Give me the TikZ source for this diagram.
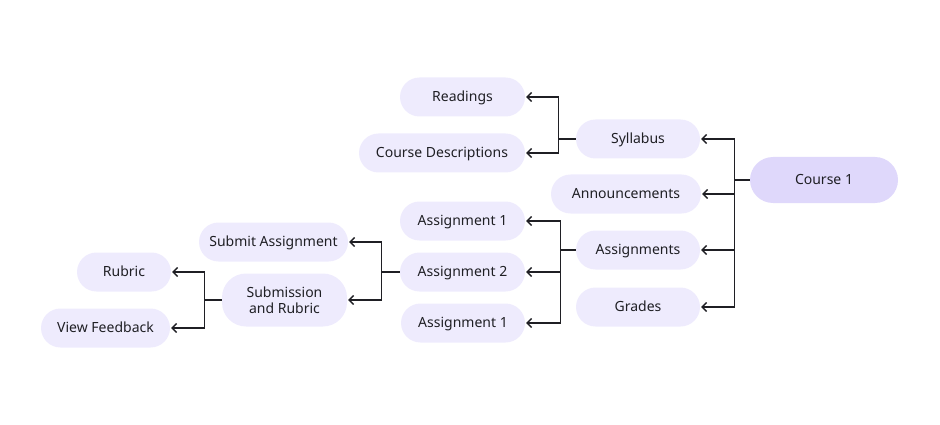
\documentclass[tikz,border=0pt]{standalone}
\usepackage{fontspec}
\setmainfont{Noto Sans}
\usetikzlibrary{arrows.meta}
\definecolor{lav}{HTML}{EEEBFD}
\definecolor{lavdark}{HTML}{DFD8FB}
\definecolor{ink}{HTML}{1F1F24}

\begin{document}
\begin{tikzpicture}[x=1pt, y=-1pt, every node/.style={font=\fontsize{14}{16.5}\selectfont, text=ink},
	box/.style={fill=lav, rounded corners=19.5pt, minimum height=39pt, inner sep=0pt, align=center, text height=10pt, text depth=1pt},
	link/.style={draw=ink, line width=1.3pt, -{Straight Barb[length=4.5pt, width=9pt]}, shorten >=1pt},
	>={Straight Barb[length=4.5pt, width=9pt]}]
	\useasboundingbox (0,0) rectangle (940,425);
	% root
	\node[box, fill=lavdark, minimum width=148pt, minimum height=46pt, rounded corners=23pt] (course) at (824,180) {Course 1};
	% first level
	\node[box, minimum width=124pt] (syllabus) at (638,139) {Syllabus};
	\node[box, minimum width=150pt] (announce) at (626,194) {Announcements};
	\node[box, minimum width=124pt] (assigns) at (638,250) {Assignments};
	\node[box, minimum width=124pt] (grades) at (638,307) {Grades};
	% syllabus children
	\node[box, minimum width=125pt] (readings) at (462.5,97) {Readings};
	\node[box, minimum width=166pt] (descr) at (442,153) {Course Descriptions};
	% assignment children
	\node[box, minimum width=125pt] (assignA) at (462.5,221) {Assignment 1};
	\node[box, minimum width=125pt] (assignB) at (462.5,272) {Assignment 2};
	\node[box, minimum width=124pt] (assignC) at (463,323) {Assignment 1};
	% assignment 2 children
	\node[box, minimum width=149pt] (submit) at (273.5,242) {Submit Assignment};
	\node[box, minimum width=125pt, minimum height=53pt, rounded corners=24pt, text height=, text depth=] (subrub) at (284.5,300) {Submission\\and Rubric};
	% submission children
	\node[box, minimum width=94pt] (rubric) at (124,272) {Rubric};
	\node[box, minimum width=129pt] (feedback) at (105.5,328) {View Feedback};

	\foreach \child in {syllabus, announce, assigns, grades}
		\draw[link] (course.west) -- ++(-15,0) |- (\child.east);
	\foreach \child in {readings, descr}
		\draw[link] (syllabus.west) -- ++(-17,0) |- (\child.east);
	\foreach \child in {assignA, assignB, assignC}
		\draw[link] (assigns.west) -- ++(-15,0) |- (\child.east);
	\foreach \child in {submit, subrub}
		\draw[link] (assignB.west) -- ++(-18,0) |- (\child.east);
	\foreach \child in {rubric, feedback}
		\draw[link] (subrub.west) -- ++(-17,0) |- (\child.east);
\end{tikzpicture}
\end{document}
